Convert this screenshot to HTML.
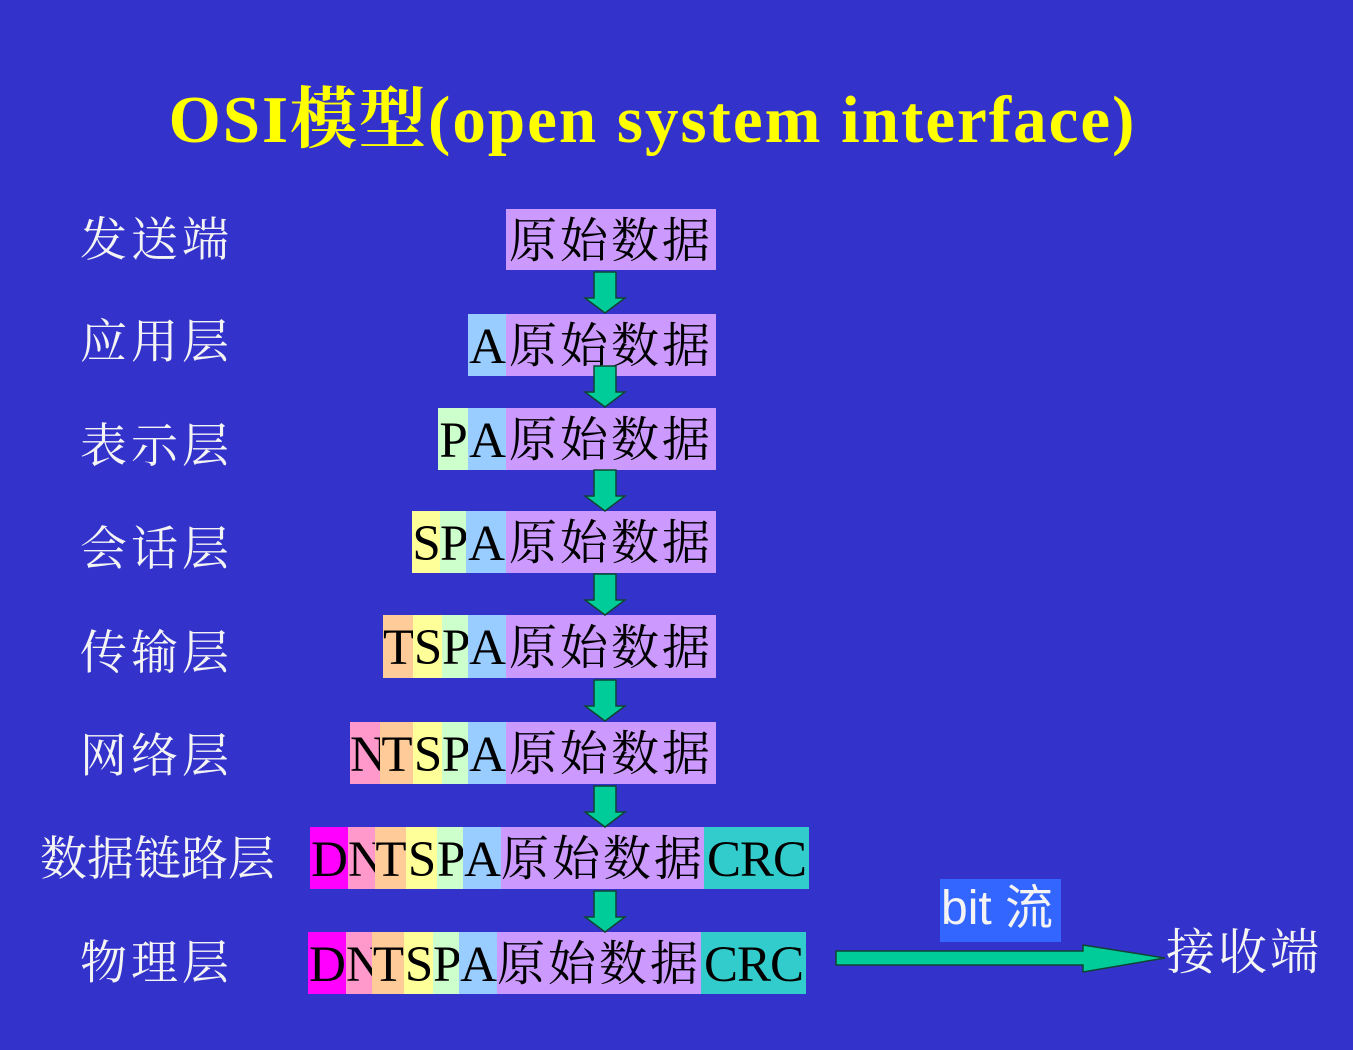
<!DOCTYPE html>
<html><head><meta charset="utf-8"><style>
html,body{margin:0;padding:0}
body{width:1353px;height:1050px;background:#3333cc;position:relative;overflow:hidden;font-family:"Liberation Serif","Noto Serif CJK SC",serif}
.t{position:absolute;left:160px;top:66px;width:985px;text-align:center;font:bold 67px "Liberation Serif","Noto Serif CJK SC",serif;color:#ffff00;white-space:nowrap;letter-spacing:2px}
.l{position:absolute;color:#f4f4f4;font-size:47px;line-height:50px;white-space:nowrap;letter-spacing:4px;font-family:"Noto Serif CJK SC",serif}
.c{position:absolute;color:#000;font-size:51px;text-align:center;white-space:nowrap;overflow:visible;font-family:"Liberation Serif","Noto Serif CJK SC",serif;letter-spacing:-1px}
.c.z{letter-spacing:3px;font-size:48px}
</style></head><body>
<div class="t">OSI模型(open system interface)</div>

<div class="l" style="left:80px;top:212px">发送端</div>
<div class="l" style="left:80px;top:314px">应用层</div>
<div class="l" style="left:80px;top:418px">表示层</div>
<div class="l" style="left:80px;top:521px">会话层</div>
<div class="l" style="left:80px;top:625px">传输层</div>
<div class="l" style="left:80px;top:728px">网络层</div>
<div class="l" style="left:40px;top:831px;letter-spacing:0">数据链路层</div>
<div class="l" style="left:80px;top:935px">物理层</div>

<div id="rows"></div>

<svg style="position:absolute;left:0;top:0" width="1353" height="1050">
<g fill="#00cc99" stroke="#114433" stroke-width="1.5">
<path d="M594 272 H616 V298 H625 L605 313 L585 298 H594 Z"/>
<path d="M594 366 H616 V392 H625 L605 407 L585 392 H594 Z"/>
<path d="M594 470 H616 V496 H625 L605 511 L585 496 H594 Z"/>
<path d="M594 574 H616 V600 H625 L605 615 L585 600 H594 Z"/>
<path d="M594 680 H616 V706 H625 L605 721 L585 706 H594 Z"/>
<path d="M594 786 H616 V812 H625 L605 827 L585 812 H594 Z"/>
<path d="M594 891 H616 V917 H625 L605 932 L585 917 H594 Z"/>
<path d="M836 951 H1083 V945 L1165 958 L1083 972 V965 H836 Z"/>
</g>
</svg>

<div style="position:absolute;left:940px;top:879px;width:121px;height:63px;background:#3366ff"></div>
<div class="l" style="left:941px;top:884px;font-family:'Liberation Sans','Noto Sans CJK SC',sans-serif;letter-spacing:0;font-size:48px">bit 流</div>
<div class="l" style="left:1166px;top:924px;font-size:49px;letter-spacing:3px">接收端</div>

<script>
var C={D:"#ff00ff",N:"#ff99cc",T:"#ffcc99",S:"#ffff99",P:"#ccffcc",A:"#99ccff",Z:"#cc99ff",R:"#33cccc"};
var rows=[
[209,270,[["Z",506,716,"原始数据"]]],
[314,376,[["A",468,506,"A"],["Z",506,716,"原始数据"]]],
[408,470,[["P",438,468,"P"],["A",468,506,"A"],["Z",506,716,"原始数据"]]],
[511,573,[["S",412,440,"S"],["P",440,466,"P"],["A",466,506,"A"],["Z",506,716,"原始数据"]]],
[615,678,[["T",383,413,"T"],["S",413,442,"S"],["P",442,468,"P"],["A",468,506,"A"],["Z",506,716,"原始数据"]]],
[722,784,[["N",350,380,"N"],["T",380,413,"T"],["S",413,442,"S"],["P",442,468,"P"],["A",468,506,"A"],["Z",506,716,"原始数据"]]],
[827,889,[["D",310,348,"D"],["N",348,375,"N"],["T",375,406,"T"],["S",406,437,"S"],["P",437,463,"P"],["A",463,501,"A"],["Z",501,704,"原始数据"],["R",704,809,"CRC"]]],
[932,994,[["D",308,346,"D"],["N",346,372,"N"],["T",372,404,"T"],["S",404,433,"S"],["P",433,459,"P"],["A",459,497,"A"],["Z",497,701,"原始数据"],["R",701,806,"CRC"]]]
];
var h="";
rows.forEach(function(r){r[2].forEach(function(c){
var w=c[2]-c[1];var hh=r[1]-r[0];
h+='<div class="c'+(c[0]=="Z"?" z":"")+'" style="left:'+c[1]+'px;top:'+r[0]+'px;width:'+w+'px;height:'+hh+'px;line-height:'+(hh+4)+'px;background:'+C[c[0]]+'">'+c[3]+'</div>';
});});
document.getElementById("rows").innerHTML=h;
</script>
</body></html>
